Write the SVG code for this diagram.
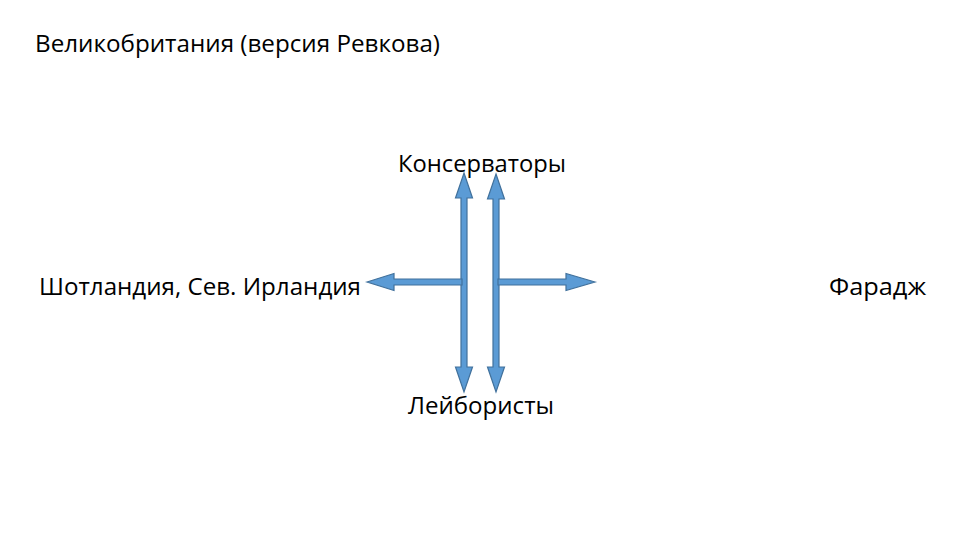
<svg xmlns="http://www.w3.org/2000/svg" width="960" height="540" viewBox="0 0 960 540">
<defs>
<style>
text{font-family:"Open Sans","Liberation Sans",sans-serif;font-size:24.5px;fill:#000}
.arr{fill:#5B9BD5;stroke:#41719C;stroke-width:1.2;stroke-linejoin:miter}
</style>
</defs>
<rect width="960" height="540" fill="#fff"/>
<g id="title"><text x="35" y="52" textLength="405" lengthAdjust="spacingAndGlyphs">Великобритания (версия Ревкова)</text></g>
<g id="conservatives"><text x="398" y="172" textLength="168" lengthAdjust="spacingAndGlyphs">Консерваторы</text></g>
<g id="scotland"><text x="39" y="295" textLength="322" lengthAdjust="spacingAndGlyphs">Шотландия, Сев. Ирландия</text></g>
<g id="farage"><text x="829" y="295" textLength="97" lengthAdjust="spacingAndGlyphs">Фарадж</text></g>
<g id="labour"><text x="408" y="414" textLength="146" lengthAdjust="spacingAndGlyphs">Лейбористы</text></g>
<g id="connectors">
<polygon class="arr" points="464,173 472.5,198 467,198 467,367 472.5,367 464,392 455.5,367 461,367 461,198 455.5,198"/>
<polygon class="arr" points="496,174 504.5,199 499,199 499,367 504.5,367 496,392 487.5,367 493,367 493,199 487.5,199"/>
<polygon class="arr" points="367,282 394,273.5 394,279 462,279 462,285 394,285 394,290.5"/>
<polygon class="arr" points="595,282 566,273.5 566,279 498,279 498,285 566,285 566,290.5"/>
</g>
</svg>
